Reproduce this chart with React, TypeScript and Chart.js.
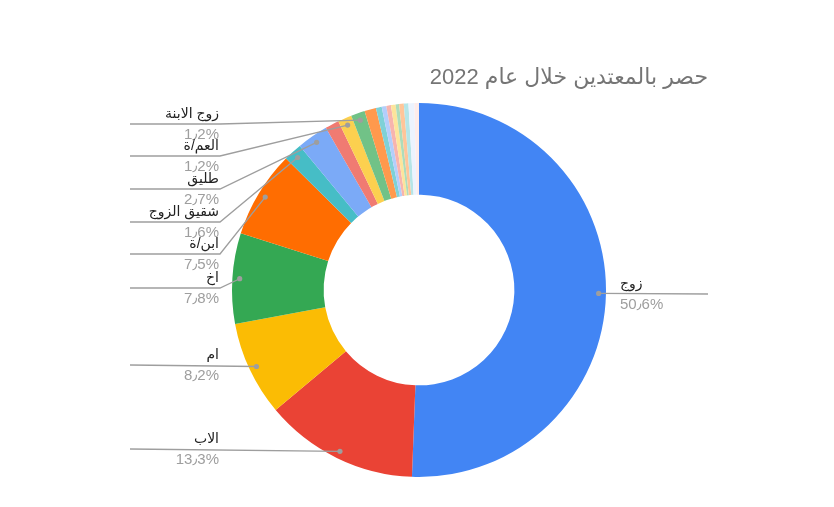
import React, { useEffect, useRef } from "react";
import { Chart, registerables } from "chart.js";

Chart.register(...registerables);

// ---- data ----
const titleText = "حصر بالمعتدين خلال عام 2022";
const categories = [
  "زوج",
  "الاب",
  "ام",
  "اخ",
  "ابن/ة",
  "شقيق الزوج",
  "طليق",
  "أخرى 1",
  "العم/ة",
  "زوج الابنة",
  "أخرى 2",
  "أخرى 3",
  "أخرى 4",
  "أخرى 5",
  "أخرى 6",
  "أخرى 7",
  "أخرى 8",
  "أخرى 9",
  "أخرى 10",
  "أخرى 11",
];
const values = [
  50.6, 13.3, 8.2, 7.8, 7.5, 1.6, 2.7, 1.2, 1.2, 1.2, 1.0, 0.5, 0.4, 0.4, 0.4,
  0.3, 0.4, 0.4, 0.5, 0.4,
];
const labeledLeft = [9, 8, 6, 5, 4, 3, 2, 1];
const labeledRight = [0];

// ---- style ----
const palette = [
  "#4285f4", "#ea4335", "#fbbc04", "#34a853", "#ff6d01", "#46bdc6",
  "#7baaf7", "#f07b72", "#fcd04f", "#71c287", "#ff994d", "#7ed1d7",
  "#b3cefb", "#f7b4ae", "#fde49b", "#aedcba", "#ffc599", "#b5e5e7",
  "#ecf3fe", "#fdeceb",
];
const leftLineY = [124, 156, 189, 222, 254, 288, 365, 449];
const leftStraight = [false, false, false, false, false, false, true, true];
const rightLineY = [294];

const total = values.reduce((a, b) => a + b, 0);
const fmtPct = (v: number) =>
  ((v / total) * 100).toFixed(1).replace(".", "٫") + "%";

const labelPlugin = {
  id: "sheetLabels",
  afterDraw(chart: any) {
    const ctx = chart.ctx as CanvasRenderingContext2D;
    const meta = chart.getDatasetMeta(0);
    const dotOf = (i: number) => {
      const arc = meta.data[i] as any;
      const p = arc.getProps(
        ["x", "y", "startAngle", "endAngle", "innerRadius", "outerRadius"],
        true
      );
      const mid = (p.startAngle + p.endAngle) / 2;
      const r = p.innerRadius + (p.outerRadius - p.innerRadius) * 0.92;
      return { x: p.x + Math.cos(mid) * r, y: p.y + Math.sin(mid) * r };
    };
    ctx.save();
    // title
    ctx.direction = "rtl";
    ctx.textAlign = "right";
    ctx.textBaseline = "alphabetic";
    ctx.fillStyle = "#757575";
    ctx.font = '22px "Liberation Sans", "DejaVu Sans", sans-serif';
    ctx.fillText(titleText, 708, 84);

    const lineColor = "#9e9e9e";
    const drawDot = (d: { x: number; y: number }) => {
      ctx.beginPath();
      ctx.fillStyle = lineColor;
      ctx.arc(d.x, d.y, 2.6, 0, Math.PI * 2);
      ctx.fill();
    };

    labeledLeft.forEach((idx, k) => {
      const d = dotOf(idx);
      const ly = leftLineY[k];
      ctx.beginPath();
      ctx.strokeStyle = lineColor;
      ctx.lineWidth = 1.3;
      ctx.moveTo(130, ly);
      if (!leftStraight[k]) ctx.lineTo(220, ly);
      ctx.lineTo(d.x, d.y);
      ctx.stroke();
      drawDot(d);
      ctx.direction = "rtl";
      ctx.textAlign = "right";
      ctx.fillStyle = "#222222";
      ctx.font = '14px "Liberation Sans", "DejaVu Sans", sans-serif';
      ctx.fillText(categories[idx], 219, ly - 6);
      ctx.direction = "ltr";
      ctx.textAlign = "right";
      ctx.fillStyle = "#9e9e9e";
      ctx.font = '15px "Liberation Sans", "DejaVu Sans", sans-serif';
      ctx.fillText(fmtPct(values[idx]), 219, ly + 15);
    });

    labeledRight.forEach((idx, k) => {
      const d = dotOf(idx);
      const ly = rightLineY[k];
      ctx.beginPath();
      ctx.strokeStyle = lineColor;
      ctx.lineWidth = 1.3;
      ctx.moveTo(d.x, d.y);
      ctx.lineTo(708, ly);
      ctx.stroke();
      drawDot(d);
      ctx.direction = "rtl";
      ctx.textAlign = "left";
      ctx.fillStyle = "#222222";
      ctx.font = '14px "Liberation Sans", "DejaVu Sans", sans-serif';
      ctx.fillText(categories[idx], 620, ly - 6);
      ctx.direction = "ltr";
      ctx.textAlign = "left";
      ctx.fillStyle = "#9e9e9e";
      ctx.font = '15px "Liberation Sans", "DejaVu Sans", sans-serif';
      ctx.fillText(fmtPct(values[idx]), 620, ly + 15);
    });
    ctx.restore();
  },
};

export default function App() {
  const ref = useRef<HTMLCanvasElement | null>(null);
  useEffect(() => {
    document.body.style.margin = "0";
    const canvas = ref.current;
    if (!canvas) return;
    const chart = new Chart(canvas, {
      type: "doughnut",
      data: {
        labels: categories,
        datasets: [
          {
            data: values,
            backgroundColor: palette,
            borderWidth: 0,
          },
        ],
      },
      options: {
        responsive: false,
        animation: false,
        cutout: "51%",
        layout: { padding: { top: 103, bottom: 30, left: 232, right: 228 } },
        plugins: {
          legend: { display: false },
          tooltip: { enabled: false },
          title: { display: false },
        },
      },
      plugins: [labelPlugin],
    });
    return () => chart.destroy();
  }, []);
  return (
    <div style={{ width: 834, height: 507, background: "#fff" }}>
      <canvas ref={ref} width={834} height={507} style={{ display: "block" }} />
    </div>
  );
}
